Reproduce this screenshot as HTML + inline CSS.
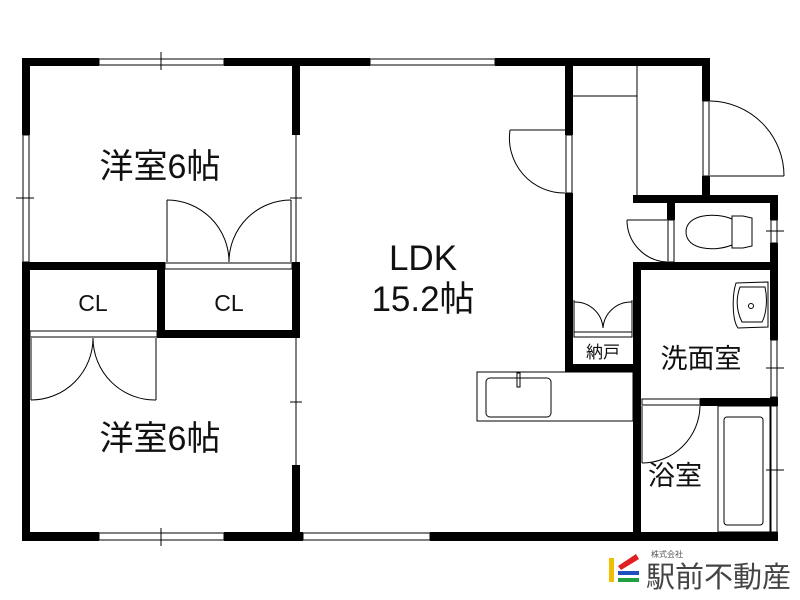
<!DOCTYPE html>
<html><head><meta charset="utf-8"><style>
html,body{margin:0;padding:0;background:#fff;}
svg{display:block;}
text{font-family:"Liberation Sans","Noto Sans CJK JP",sans-serif;fill:#111;}
</style></head><body>
<svg width="800" height="600" viewBox="0 0 800 600" xmlns="http://www.w3.org/2000/svg">
<g fill="#000">
<rect x="22" y="58" width="77" height="8"/>
<rect x="224" y="58" width="146" height="8"/>
<rect x="495" y="58" width="215" height="8"/>
<rect x="22" y="58" width="8" height="77"/>
<rect x="22" y="262" width="8" height="279"/>
<rect x="22" y="532" width="77" height="9"/>
<rect x="224" y="532" width="79" height="9"/>
<rect x="430" y="532" width="348" height="9"/>
<rect x="292" y="58" width="8" height="77"/>
<rect x="292" y="262" width="8" height="76"/>
<rect x="292" y="465" width="8" height="76"/>
<rect x="22" y="262" width="143" height="8"/>
<rect x="157" y="262" width="8" height="76"/>
<rect x="157" y="330" width="143" height="8"/>
<rect x="565" y="58" width="8" height="77"/>
<rect x="565" y="193" width="8" height="179"/>
<rect x="565" y="364" width="76" height="8"/>
<rect x="702" y="58" width="8" height="43"/>
<rect x="702" y="176" width="8" height="27"/>
<rect x="633" y="195" width="145" height="8"/>
<rect x="667" y="195" width="8" height="25"/>
<rect x="770" y="195" width="8" height="25"/>
<rect x="770" y="243" width="8" height="97"/>
<rect x="633" y="262" width="145" height="8"/>
<rect x="633" y="262" width="8" height="279"/>
<rect x="700" y="398" width="78" height="8"/>
<rect x="770" y="397" width="8" height="9"/>
</g>
<g fill="none" stroke="#000" stroke-width="1">
<rect x="99" y="59" width="125" height="6"/><line x1="161" y1="52" x2="161" y2="70"/>
<rect x="370" y="59" width="125" height="6"/>
<rect x="99" y="533" width="125" height="7"/><line x1="161" y1="528" x2="161" y2="546"/>
<rect x="303" y="533" width="127" height="7"/>
<rect x="23" y="135" width="6" height="127"/><line x1="16" y1="198" x2="34" y2="198"/>
<rect x="566" y="135" width="6" height="58"/>
<rect x="703" y="101" width="6" height="75"/>
<rect x="771" y="220" width="6" height="23"/><line x1="766" y1="231" x2="784" y2="231"/>
<rect x="771" y="340" width="6" height="57"/><line x1="766" y1="368" x2="784" y2="368"/>
<rect x="771" y="406" width="6" height="126"/><line x1="766" y1="470" x2="784" y2="470"/>
<line x1="296" y1="135" x2="296" y2="262"/><line x1="290" y1="198" x2="302" y2="198"/>
<line x1="296" y1="338" x2="296" y2="465"/><line x1="290" y1="402" x2="302" y2="402"/>
<rect x="165" y="263" width="127" height="6"/>
<line x1="167" y1="200" x2="167" y2="262"/>
<path d="M167 200 A62 62 0 0 1 229 262"/>
<line x1="291" y1="200" x2="291" y2="262"/>
<path d="M291 200 A62 62 0 0 0 229 262"/>
<rect x="30" y="331" width="127" height="6"/>
<line x1="31" y1="338" x2="31" y2="400"/>
<path d="M31 400 A62 62 0 0 0 93 338"/>
<line x1="156" y1="338" x2="156" y2="400"/>
<path d="M156 400 A62 62 0 0 1 93 338"/>
<line x1="510" y1="130" x2="565" y2="130"/>
<path d="M510 130 A55 55 0 0 0 565 193"/>
<line x1="573" y1="96" x2="637" y2="96"/>
<line x1="637" y1="66" x2="637" y2="195"/>
<line x1="710" y1="176" x2="784" y2="176"/>
<path d="M710 101 A75 75 0 0 1 784 176"/>
<rect x="668" y="220" width="6" height="42"/>
<line x1="627" y1="220" x2="667" y2="220"/>
<path d="M627 220 A42 42 0 0 0 667 262"/>
<path d="M732 216 L743 216 L752 218 L752 246 L743 248 L732 248 Z"/>
<path d="M732 219 C715 212 686 214 686 232 C686 250 715 252 732 245"/>
<path d="M736 283 L768 282 L768 327 L738 328 C732 320 732 295 736 283 Z"/>
<path d="M740 287 L765 287 C768 300 766 315 762 322 L742 322 C736 310 736 298 740 287 Z"/>
<circle cx="751" cy="306" r="2.5"/>
<line x1="574" y1="300" x2="574" y2="332"/>
<path d="M574 302 A28 28 0 0 1 603 328"/>
<line x1="632" y1="300" x2="632" y2="332"/>
<path d="M632 302 A28 28 0 0 0 603 328"/>
<rect x="574" y="332" width="58" height="5"/>
<rect x="477" y="372" width="156" height="49"/>
<rect x="486" y="378" width="65" height="39" rx="4"/>
<rect x="517" y="373" width="3" height="14"/>
<rect x="642" y="399" width="58" height="6"/>
<line x1="642" y1="406" x2="642" y2="463"/>
<path d="M700 406 A58 58 0 0 1 642 463"/>
<rect x="718" y="406" width="52" height="126"/>
<rect x="724" y="417" width="39" height="108" rx="3"/>
</g>
<text x="160" y="178" font-size="34" text-anchor="middle">洋室6帖</text>
<text x="160" y="450" font-size="34" text-anchor="middle">洋室6帖</text>
<text x="93" y="311" font-size="23" text-anchor="middle">CL</text>
<text x="229" y="311" font-size="23" text-anchor="middle">CL</text>
<text x="423" y="270" font-size="35" text-anchor="middle">LDK</text>
<text x="423" y="311" font-size="35" text-anchor="middle">15.2帖</text>
<text x="603" y="358" font-size="17" text-anchor="middle">納戸</text>
<text x="701" y="368" font-size="27" text-anchor="middle">洗面室</text>
<text x="675" y="485" font-size="27" text-anchor="middle">浴室</text>
<rect x="609" y="558" width="5" height="24" fill="#f0c000"/>
<polygon points="618,566 636,554 639,559 621,570" fill="#e02020"/>
<rect x="618" y="571" width="21" height="4" fill="#2050c0"/>
<rect x="618" y="578" width="21" height="4" fill="#20a040"/>
<text x="651" y="557" font-size="8" style="fill:#555">株式会社</text>
<text x="646" y="587" font-size="29" style="fill:#444">駅前不動産</text>
</svg>
</body></html>
